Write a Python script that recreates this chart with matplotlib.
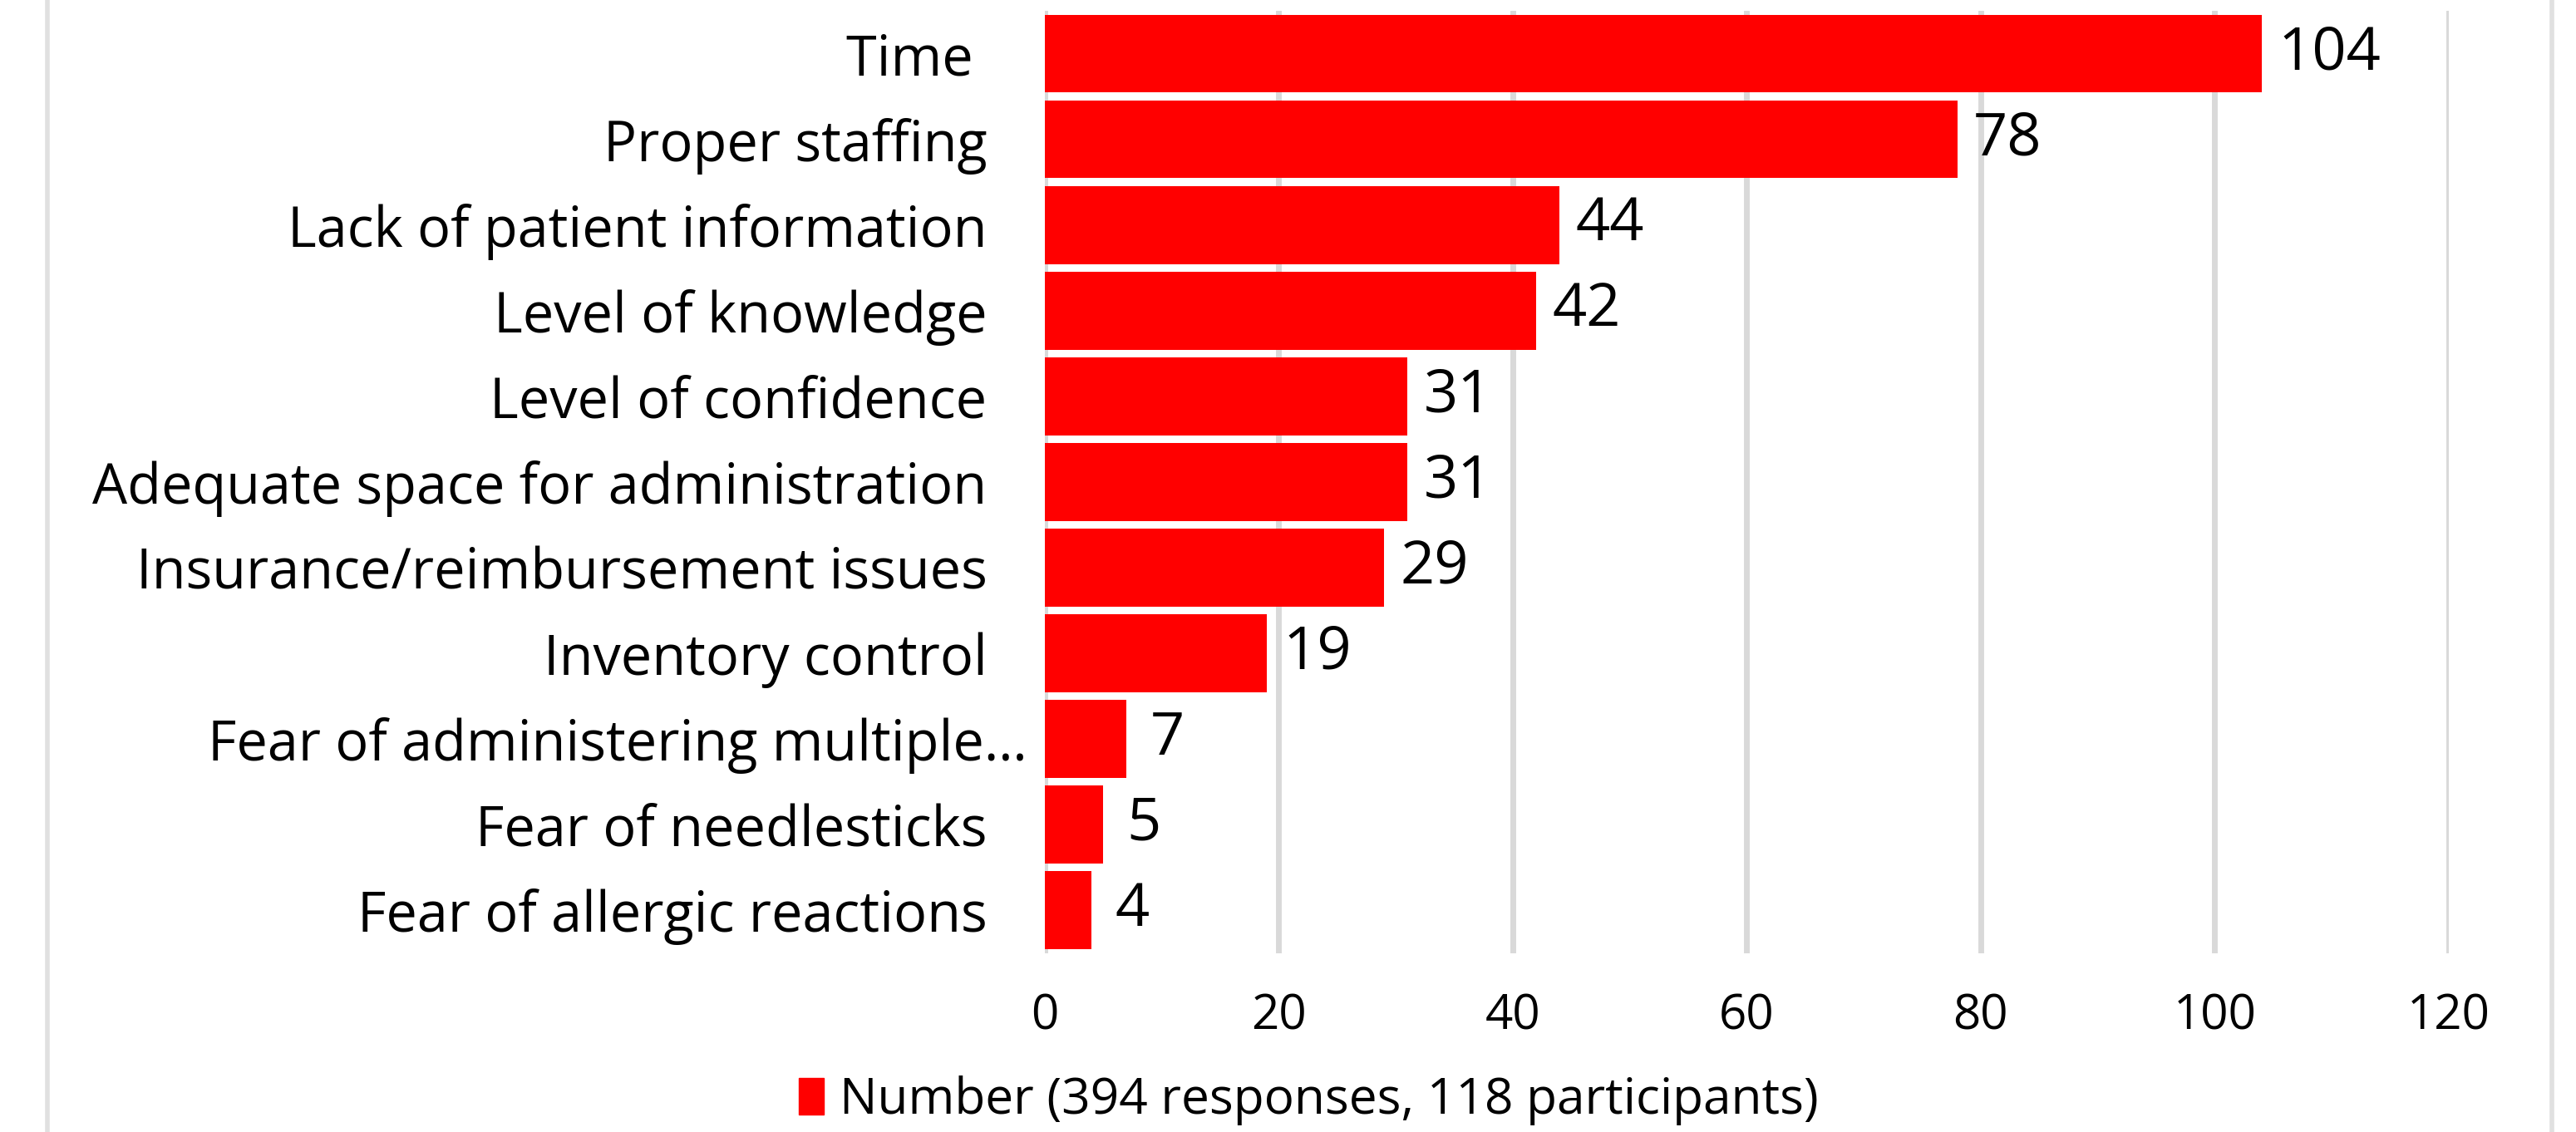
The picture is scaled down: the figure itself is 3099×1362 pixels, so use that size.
import matplotlib
matplotlib.use("Agg")
import matplotlib.pyplot as plt
import matplotlib.transforms as mtransforms
from matplotlib.lines import Line2D
from matplotlib.patches import Patch

categories = ["Time ", "Proper staffing", "Lack of patient information",
              "Level of knowledge", "Level of confidence",
              "Adequate space for administration",
              "Insurance/reimbursement issues", "Inventory control",
              "Fear of administering multiple\u2026", "Fear of needlesticks",
              "Fear of allergic reactions"]
counts = [104, 78, 44, 42, 31, 31, 29, 19, 7, 5, 4]
xticks = [0, 20, 40, 60, 80, 100, 120]
legend_label = "Number (394 responses, 118 participants)"

plt.rcParams['font.family'] = ['Open Sans', 'DejaVu Sans']

fig = plt.figure(figsize=(30.99, 13.62), dpi=100)
ax = fig.add_axes([0.4056, 0.158, 0.545, 0.8325])

ypos = list(range(len(categories)))
ax.barh(ypos, counts, height=0.91, color="#ff0000", zorder=3)
ax.set_ylim(len(categories) - 0.5, -0.5)
ax.set_xlim(0, 120)
ax.set_xticks(xticks)
ax.set_xticklabels([str(t) for t in xticks], fontsize=42)
ax.set_yticks(ypos)
ax.set_yticklabels(categories, fontsize=48)
ax.tick_params(axis='both', length=0)
ax.tick_params(axis='x', pad=34)
ax.tick_params(axis='y', pad=50)
for s in ax.spines.values():
    s.set_visible(False)
ax.grid(axis='x', color="#d9d9d9", linewidth=5, zorder=0)

# the truncated label runs a bit past the others, like in the original
for lbl in ax.get_yticklabels():
    if lbl.get_text().endswith("\u2026"):
        lbl.set_transform(lbl.get_transform() +
                          mtransforms.ScaledTranslation(0.48, 0, fig.dpi_scale_trans))

for y, v in zip(ypos, counts):
    off = 14 if v >= 10 else 20
    ax.annotate(str(v), (v, y), xytext=(off, 0), textcoords='offset points',
                va='center', ha='left', fontsize=52)

fig.legend(handles=[Patch(color="#ff0000", label=legend_label)],
           loc='center', bbox_to_anchor=(0.508, 0.028), frameon=False,
           fontsize=43.5, handlelength=0.5, handleheight=0.75, handletextpad=0.3)

# chart-area border (left and right edges visible)
for xf in (57 / 3099, 3070 / 3099):
    fig.add_artist(Line2D([xf, xf], [0, 1], transform=fig.transFigure,
                          color="#e0e0e0", linewidth=4))

fig.savefig("out.png", dpi=100, facecolor="white")
